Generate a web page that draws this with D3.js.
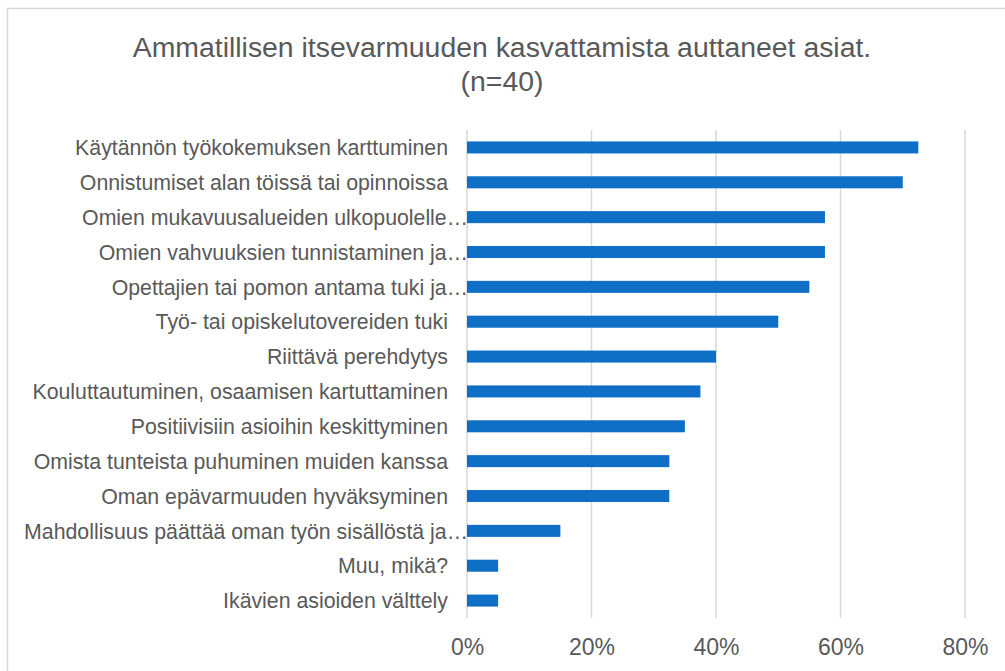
<!DOCTYPE html>
<html>
<head>
<meta charset="utf-8">
<script src="https://cdn.jsdelivr.net/npm/d3@7"></script>
<style>
  body { margin: 0; background: #fff; }
  svg { display: block; font-family: Arial, "Liberation Sans", sans-serif; }
</style>
</head>
<body>
<div id="chart"></div>
<script>
// kategoriat ylhäältä alas
var categories = [
    "Käytännön työkokemuksen karttuminen",
    "Onnistumiset alan töissä tai opinnoissa",
    "Omien mukavuusalueiden ulkopuolelle…",
    "Omien vahvuuksien tunnistaminen ja…",
    "Opettajien tai pomon antama tuki ja…",
    "Työ- tai opiskelutovereiden tuki",
    "Riittävä perehdytys",
    "Kouluttautuminen, osaamisen kartuttaminen",
    "Positiivisiin asioihin keskittyminen",
    "Omista tunteista puhuminen muiden kanssa",
    "Oman epävarmuuden hyväksyminen",
    "Mahdollisuus päättää oman työn sisällöstä ja…",
    "Muu, mikä?",
    "Ikävien asioiden välttely"
];
var values = [0.725, 0.70, 0.575, 0.575, 0.55, 0.50, 0.40, 0.375, 0.35, 0.325, 0.325, 0.15, 0.05, 0.05];
var ticks = [0, 0.2, 0.4, 0.6, 0.8];
var titleLines = ["Ammatillisen itsevarmuuden kasvattamista auttaneet asiat.", "(n=40)"];

var width = 1005, height = 671;
var textColor = "#595959", gridColor = "#d9d9d9", barColor = "#0f6fc6";

var svg = d3.select("#chart").append("svg")
    .attr("width", width)
    .attr("height", height);

svg.append("rect")
    .attr("width", width).attr("height", height)
    .attr("fill", "#fff");

// kaavion reunus (jatkuu kuvan ulkopuolelle oikealle ja alas)
svg.append("rect")
    .attr("x", 7.5).attr("y", 8.5)
    .attr("width", width + 10).attr("height", height + 10)
    .attr("fill", "none")
    .attr("stroke", gridColor)
    .attr("stroke-width", 1.5);

svg.append("g").selectAll("text")
    .data(titleLines)
    .enter().append("text")
    .attr("x", 502)
    .attr("y", function(d, i) { return 57 + i * 34; })
    .attr("text-anchor", "middle")
    .attr("font-size", "28.4px")
    .attr("fill", textColor)
    .text(function(d) { return d; });

var x = d3.scaleLinear().domain([0, 0.8]).range([467, 965]);
var y = d3.scaleBand().domain(categories).range([130, 618])
    .paddingInner(0.655).paddingOuter(0.3275);

// ruudukko
svg.append("g").selectAll("line")
    .data(ticks)
    .enter().append("line")
    .attr("x1", function(d) { return x(d); })
    .attr("x2", function(d) { return x(d); })
    .attr("y1", 130).attr("y2", 618)
    .attr("stroke", gridColor)
    .attr("stroke-width", 1.5);

// palkit
svg.append("g").selectAll("rect")
    .data(values)
    .enter().append("rect")
    .attr("x", x(0))
    .attr("y", function(d, i) { return y(categories[i]); })
    .attr("width", function(d) { return x(d) - x(0); })
    .attr("height", y.bandwidth())
    .attr("fill", barColor);

// kategorianimet
svg.append("g").selectAll("text")
    .data(categories)
    .enter().append("text")
    .attr("x", function(d) { return d.slice(-1) == "…" ? x(0) + 1 : x(0) - 19; })
    .attr("y", function(d) { return y(d) + y.bandwidth() / 2; })
    .attr("dy", "0.36em")
    .attr("text-anchor", "end")
    .attr("font-size", "21.3px")
    .attr("fill", textColor)
    .text(function(d) { return d; });

// x-akselin otsikot
var xAxis = svg.append("g")
    .attr("transform", "translate(0,618)")
    .call(d3.axisBottom(x).tickValues(ticks).tickFormat(d3.format(".0%")).tickSize(0).tickPadding(0));
xAxis.select(".domain").remove();
xAxis.selectAll("text")
    .attr("y", 37)
    .attr("dy", 0)
    .attr("font-size", "23px")
    .attr("font-family", "Arial, 'Liberation Sans', sans-serif")
    .attr("fill", textColor);
</script>
</body>
</html>
